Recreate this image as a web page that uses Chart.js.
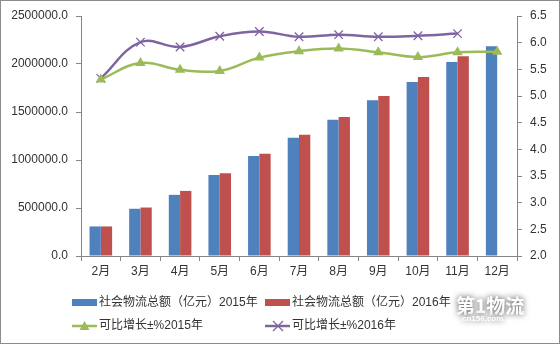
<!DOCTYPE html>
<html>
<head>
<meta charset="utf-8">
<script src="https://cdn.jsdelivr.net/npm/chart.js@4.4.1/dist/chart.umd.min.js"></script>
<style>
html, body { margin: 0; padding: 0; background: #fff; }
#wrap { width: 560px; height: 344px; }
</style>
</head>
<body>
<div id="wrap"><canvas id="chart" width="560" height="344"></canvas></div>
<script>
// categories and values
const months = ['2月', '3月', '4月', '5月', '6月', '7月', '8月', '9月', '10月', '11月', '12月'];
const total2015 = [308000, 492000, 637000, 844000, 1041000, 1231000, 1418000, 1622000, 1812000, 2020000, 2186000];
const total2016 = [308000, 505000, 678000, 861000, 1065000, 1262000, 1449000, 1667000, 1864000, 2082000, null];
const growth2015 = [5.31, 5.62, 5.49, 5.47, 5.72, 5.84, 5.89, 5.82, 5.73, 5.82, 5.83];
const growth2016 = [5.33, 6.01, 5.92, 6.12, 6.21, 6.11, 6.15, 6.11, 6.13, 6.17, null];
const seriesNames = ['社会物流总额（亿元）2015年', '社会物流总额（亿元）2016年', '可比增长±%2015年', '可比增长±%2016年'];

const BLUE = '#4F81BD';
const RED = '#C0504D';
const GREEN = '#9BBB59';
const PURPLE = '#8064A2';
const AXIS = '#868686';
const FONT = "'Liberation Sans', 'Noto Sans CJK SC', sans-serif";

// draws the legend block below the plot, the watermark and the outer frame
const legendAndFrame = {
    id: 'legendAndFrame',
    afterDraw(chart) {
        const ctx = chart.ctx;
        ctx.save();
        ctx.font = '12px ' + FONT;
        ctx.fillStyle = '#333';
        ctx.textBaseline = 'middle';

        // bars
        ctx.fillStyle = BLUE;
        ctx.fillRect(72, 299, 25, 7);
        ctx.fillStyle = RED;
        ctx.fillRect(265, 299, 25, 7);
        ctx.fillStyle = '#333';
        ctx.fillText(seriesNames[0], 99, 303);
        ctx.fillText(seriesNames[1], 292, 303);

        // lines
        ctx.lineWidth = 2.5;
        ctx.strokeStyle = GREEN;
        ctx.beginPath(); ctx.moveTo(72, 326); ctx.lineTo(97, 326); ctx.stroke();
        ctx.fillStyle = GREEN;
        ctx.beginPath(); ctx.moveTo(84.5, 321); ctx.lineTo(89.5, 330); ctx.lineTo(79.5, 330); ctx.closePath(); ctx.fill();
        ctx.strokeStyle = PURPLE;
        ctx.beginPath(); ctx.moveTo(265, 326); ctx.lineTo(290, 326); ctx.stroke();
        ctx.lineWidth = 1.3;
        ctx.beginPath();
        ctx.moveTo(273, 321); ctx.lineTo(283, 331);
        ctx.moveTo(283, 321); ctx.lineTo(273, 331);
        ctx.stroke();
        ctx.fillStyle = '#333';
        ctx.fillText(seriesNames[2], 99, 326);
        ctx.fillText(seriesNames[3], 292, 326);

        // watermark (white text with a grey glow)
        ctx.shadowColor = 'rgba(0,0,0,0.75)';
        ctx.shadowBlur = 6;
        ctx.fillStyle = '#fff';
        ctx.font = "bold 19px 'Noto Sans CJK SC', sans-serif";
        ctx.fillText('第1物流', 456, 306);
        ctx.font = "bold 8px 'Liberation Sans', sans-serif";
        ctx.fillText('cn156.com', 462, 319);
        ctx.shadowBlur = 0;
        ctx.shadowColor = 'transparent';

        // outer frame
        ctx.strokeStyle = '#8c8c8c';
        ctx.lineWidth = 1;
        ctx.strokeRect(0.5, 0.5, 559, 343);
        ctx.restore();
    }
};

const ctx = document.getElementById('chart').getContext('2d');
new Chart(ctx, {
    type: 'bar',
    data: {
        labels: months,
        datasets: [{
            label: seriesNames[0],
            data: total2015,
            backgroundColor: BLUE,
            yAxisID: 'y',
            order: 2,
            categoryPercentage: 0.57,
            barPercentage: 1.0
        }, {
            label: seriesNames[1],
            data: total2016,
            backgroundColor: RED,
            yAxisID: 'y',
            order: 2,
            categoryPercentage: 0.57,
            barPercentage: 1.0
        }, {
            type: 'line',
            label: seriesNames[2],
            data: growth2015,
            borderColor: GREEN,
            backgroundColor: GREEN,
            borderWidth: 2.5,
            tension: 0.4,
            pointStyle: 'triangle',
            pointRadius: 6,
            pointBorderWidth: 0,
            yAxisID: 'y1',
            order: 1
        }, {
            type: 'line',
            label: seriesNames[3],
            data: growth2016,
            borderColor: PURPLE,
            backgroundColor: PURPLE,
            borderWidth: 2.5,
            tension: 0.4,
            pointStyle: 'crossRot',
            pointRadius: 6,
            pointBorderWidth: 1.3,
            yAxisID: 'y1',
            order: 1
        }]
    },
    options: {
        responsive: false,
        animation: false,
        layout: { padding: { top: 16, bottom: 58, left: 0, right: 0 } },
        plugins: {
            legend: { display: false },
            tooltip: { enabled: false }
        },
        scales: {
            x: {
                grid: { display: true, drawOnChartArea: false, color: AXIS, tickLength: 5, offset: true },
                border: { color: AXIS },
                ticks: { color: '#333', font: { family: FONT, size: 12 }, padding: 3, maxRotation: 0 },
                afterFit(scale) { scale.height = 30; }
            },
            y: {
                position: 'left',
                min: 0,
                max: 2500000,
                ticks: {
                    stepSize: 500000,
                    color: '#333',
                    font: { family: FONT, size: 12 },
                    padding: 8,
                    callback: v => v.toFixed(1)
                },
                grid: { display: true, drawOnChartArea: false, color: AXIS, tickLength: 5 },
                border: { color: AXIS },
                afterFit(scale) { scale.width = 81; }
            },
            y1: {
                position: 'right',
                min: 2,
                max: 6.5,
                ticks: {
                    stepSize: 0.5,
                    color: '#333',
                    font: { family: FONT, size: 12 },
                    padding: 8,
                    callback: v => v.toFixed(1)
                },
                grid: { display: true, drawOnChartArea: false, color: AXIS, tickLength: 5 },
                border: { color: AXIS },
                afterFit(scale) { scale.width = 43; }
            }
        }
    },
    plugins: [legendAndFrame]
});
</script>
</body>
</html>
